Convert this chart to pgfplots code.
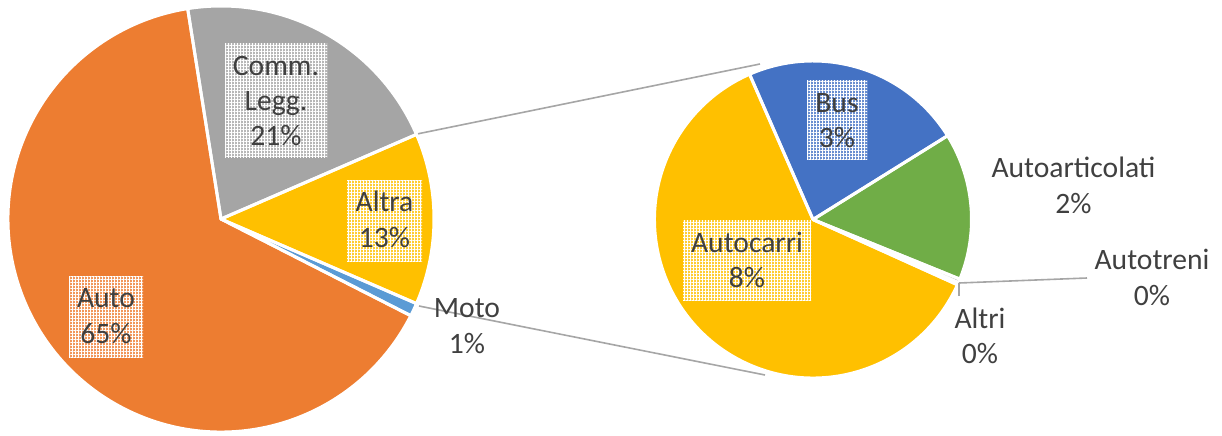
\documentclass[border=0pt]{standalone}
\usepackage{pgfplots}
\pgfplotsset{compat=1.18}
\usepackage{fontspec}
\setmainfont{Carlito}
\usetikzlibrary{patterns.meta}
\definecolor{cAuto}{HTML}{ED7D31}
\definecolor{cComm}{HTML}{A5A5A5}
\definecolor{cAltra}{HTML}{FFC000}
\definecolor{cMoto}{HTML}{5B9BD5}
\definecolor{cBus}{HTML}{4472C4}
\definecolor{cArt}{HTML}{70AD47}
\definecolor{txt}{HTML}{404040}
\definecolor{lead}{HTML}{A6A6A6}

% ---- data (percent of total) ----
% main pie, clockwise from the top edge of "Altra"
\def\vAltra{13}\def\vMoto{1}\def\vAuto{65}\def\vComm{21}
% secondary pie (breakdown of Altra), clockwise
\def\vBus{2.95}\def\vArt{1.95}\def\vTreni{0.05}\def\vAltri{0.03}\def\vCarri{8.02}

\newcommand{\slicefill}[6]{\fill[#6] (#1,#2) -- ++(#4:#3) arc[start angle=#4, end angle=#5, radius=#3] -- cycle;}
\newcommand{\sliceline}[5]{\draw[white, line width=1.5pt, line join=round] (#1,#2) -- ++(#4:#3) arc[start angle=#4, end angle=#5, radius=#3] -- cycle;}
\newcommand{\labbox}[5]{%
  \fill[#5!80!white] (#1,435-#2) rectangle (#3,435-#4);
  \fill[pattern={Lines[distance=1.5pt, angle=0, line width=0.25pt]}, pattern color=white] (#1,435-#2) rectangle (#3,435-#4);
  \fill[pattern={Lines[distance=1.5pt, angle=90, line width=0.25pt]}, pattern color=white] (#1,435-#2) rectangle (#3,435-#4);}
\newcommand{\labline}[3]{\node[anchor=base, inner sep=0pt, text=txt, font=\fontsize{14.8}{17.5}\selectfont] at (#1,435-#2) {#3};}

\begin{document}
\begin{tikzpicture}
% main pie angles
\pgfmathsetmacro\mA{\vAltra*3.6/2}
\pgfmathsetmacro\mB{\mA-\vAltra*3.6}
\pgfmathsetmacro\mC{\mB-\vMoto*3.6}
\pgfmathsetmacro\mD{\mC-\vAuto*3.6}
\pgfmathsetmacro\mE{\mD-\vComm*3.6}
% secondary pie angles
\pgfmathsetmacro\sT{\vBus+\vArt+\vTreni+\vAltri+\vCarri}
\pgfmathsetmacro\sA{113.6}
\pgfmathsetmacro\sB{\sA-\vBus*360/\sT}
\pgfmathsetmacro\sC{\sB-\vArt*360/\sT}
\pgfmathsetmacro\sD{\sC-\vTreni*360/\sT}
\pgfmathsetmacro\sE{\sD-\vAltri*360/\sT}
\pgfmathsetmacro\sF{\sE-\vCarri*360/\sT}
\begin{axis}[x=0.5pt, y=0.5pt, xmin=0, xmax=1222, ymin=0, ymax=435,
  hide axis, clip=false]
\coordinate (BL) at (0,0);
\coordinate (TR) at (1222,435);
% connector lines
\draw[lead, line width=0.8pt] (417,435-134) -- (760,435-64);
\draw[lead, line width=0.8pt] (419,435-306) -- (765,435-375);
% main pie
\slicefill{221}{216}{106.5pt}{\mA}{\mB}{cAltra}
\slicefill{221}{216}{106.5pt}{\mB}{\mC}{cMoto}
\slicefill{221}{216}{106.5pt}{\mC}{\mD}{cAuto}
\slicefill{221}{216}{106.5pt}{\mD}{\mE}{cComm}
\sliceline{221}{216}{106.5pt}{\mA}{\mB}
\sliceline{221}{216}{106.5pt}{\mB}{\mC}
\sliceline{221}{216}{106.5pt}{\mC}{\mD}
\sliceline{221}{216}{106.5pt}{\mD}{\mE}
% secondary pie
\slicefill{813}{215.5}{79.25pt}{\sA}{\sB}{cBus}
\slicefill{813}{215.5}{79.25pt}{\sB}{\sC}{cArt}
\slicefill{813}{215.5}{79.25pt}{\sC}{\sD}{cComm}
\slicefill{813}{215.5}{79.25pt}{\sD}{\sE}{cMoto}
\slicefill{813}{215.5}{79.25pt}{\sE}{\sF}{cAltra}
\sliceline{813}{215.5}{79.25pt}{\sA}{\sB}
\sliceline{813}{215.5}{79.25pt}{\sB}{\sC}
\sliceline{813}{215.5}{79.25pt}{\sC}{\sD}
\sliceline{813}{215.5}{79.25pt}{\sD}{\sE}
\sliceline{813}{215.5}{79.25pt}{\sE}{\sF}
% leader lines
\draw[lead, line width=0.8pt] (959,435-283) -- (1087,435-278);
\draw[lead, line width=0.8pt] (959,435-283) -- (959,435-296);
% label boxes
\labbox{225}{43}{327}{157}{cComm}
\labbox{347}{180}{422}{261}{cAltra}
\labbox{69}{276}{143}{357}{cAuto}
\labbox{807}{80}{867}{159}{cBus}
\labbox{683}{220}{811}{300}{cAltra}
% labels
\labline{276}{75}{Comm.}\labline{276}{110}{Legg.}\labline{276}{145}{21\%}
\labline{384.5}{211}{Altra}\labline{384.5}{247}{13\%}
\labline{106}{307}{Auto}\labline{106}{343}{65\%}
\labline{467}{317}{Moto}\labline{467}{353}{1\%}
\labline{837}{112}{Bus}\labline{837}{147}{3\%}
\labline{747}{252}{Autocarri}\labline{747}{287}{8\%}
\labline{1073.5}{177}{Autoarticolati}\labline{1073.5}{213}{2\%}
\labline{1152}{269}{Autotreni}\labline{1152}{305}{0\%}
\labline{980}{328}{Altri}\labline{980}{363}{0\%}
\end{axis}
\pgfresetboundingbox
\path[use as bounding box] (BL) rectangle (TR);
\end{tikzpicture}
\end{document}
